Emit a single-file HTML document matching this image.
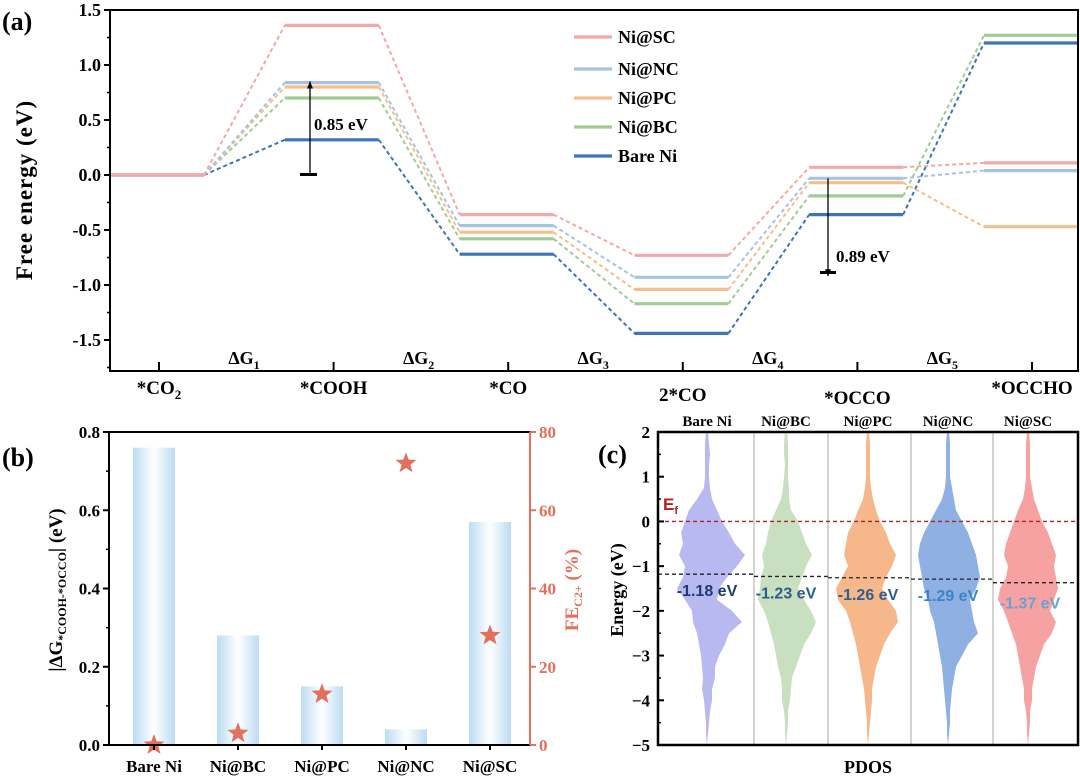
<!DOCTYPE html>
<html><head><meta charset="utf-8">
<style>
html,body{margin:0;padding:0;background:#fff;}
svg{display:block;font-family:"Liberation Serif",serif;}
</style></head>
<body>
<svg id="fig" width="1080" height="779" viewBox="0 0 1080 779" xmlns="http://www.w3.org/2000/svg"></svg>
<script>
// ---------- Panel (a) data ----------
const statesA = ["*CO2","*COOH","*CO","2*CO","*OCCO","*OCCHO"];
const seriesNamesA = ["Ni@SC","Ni@NC","Ni@PC","Ni@BC","Bare Ni"];
const energySC = [0, 1.36, -0.36, -0.73, 0.07, 0.11];
const energyNC = [0, 0.84, -0.46, -0.93, -0.03, 0.04];
const energyPC = [0, 0.80, -0.52, -1.04, -0.07, -0.47];
const energyBC = [0, 0.70, -0.58, -1.17, -0.19, 1.27];
const energyBare = [0, 0.32, -0.72, -1.44, -0.36, 1.20];
const yTicksA = [1.5, 1.0, 0.5, 0.0, -0.5, -1.0, -1.5];
const yTickLabelsA = ["1.5","1.0","0.5","0.0","-0.5","-1.0","-1.5"];
// ---------- Panel (b) data ----------
const catsB = ["Bare Ni","Ni@BC","Ni@PC","Ni@NC","Ni@SC"];
const deltaG = [0.76, 0.28, 0.15, 0.04, 0.57];
const feC2 = [0, 3, 13, 72, 28];
const yTicksB = [0, 0.2, 0.4, 0.6, 0.8];
const yTickLabelsB = ["0.0","0.2","0.4","0.6","0.8"];
const yTicksB2 = [0, 20, 40, 60, 80];
// ---------- Panel (c) data ----------
const catsC = ["Bare Ni","Ni@BC","Ni@PC","Ni@NC","Ni@SC"];
const dCenter = [-1.18, -1.23, -1.26, -1.29, -1.37];
const dLabels = ["-1.18 eV","-1.23 eV","-1.26 eV","-1.29 eV","-1.37 eV"];
const energiesC = [2,1.75,1.5,1.25,1,0.75,0.5,0.25,0,-0.25,-0.5,-0.75,-1,-1.25,-1.5,-1.75,-2,-2.25,-2.5,-2.75,-3,-3.25,-3.5,-3.75,-4,-4.25,-4.5,-4.75,-5];
const bareR = [1,2,3,2,2,3,5,10,15,22,28,38,30,20,12,10,25,35,22,18,12,8,8,5,5,3,2,1,0];
const bareL = [1,2,2,2,2,3,10,18,22,26,24,28,22,24,30,22,15,14,10,8,6,5,4,5,3,2,1,1,0];
const bcR = [1,2,2,2,2,3,3,5,12,16,20,26,20,16,12,18,25,30,25,18,14,10,6,5,4,2,2,1,0];
const bcL = [1,2,2,1,2,3,5,10,15,18,20,24,22,25,26,28,22,18,15,12,10,8,5,4,4,2,1,1,0];
const pcR = [1,2,2,2,2,3,5,8,12,18,22,28,24,18,14,20,28,30,22,16,12,8,6,4,4,3,2,1,0];
const pcL = [1,2,2,2,2,3,5,10,14,20,22,24,20,26,32,30,22,18,15,12,10,8,6,4,3,2,1,1,0];
const ncR = [1,2,2,2,2,4,6,8,14,20,24,28,30,32,28,22,24,26,30,20,14,8,6,4,3,2,2,1,0];
const ncL = [1,2,2,2,2,3,6,12,18,24,28,30,28,26,24,20,18,14,12,10,8,6,5,4,3,2,1,1,0];
const scR = [1,2,2,2,2,4,6,10,14,20,24,28,26,28,30,26,22,28,24,16,12,8,6,4,4,2,2,1,0];
const scL = [1,2,2,2,2,3,5,10,14,18,22,24,20,22,28,30,24,20,16,12,10,8,6,4,4,2,1,1,0];

const NS = "http://www.w3.org/2000/svg";
const svg = document.getElementById("fig");
function mk(tag, attrs, parent){
  const e = document.createElementNS(NS, tag);
  for (const k in attrs) e.setAttribute(k, attrs[k]);
  (parent||svg).appendChild(e);
  return e;
}
function txt(x,y,s,attrs,parent){
  const t = mk("text", Object.assign({x:x,y:y}, attrs||{}), parent);
  t.textContent = s;
  return t;
}

// ===== Panel (a) =====
const gA = mk("g",{});


const aL=110, aR=1078, aT=10, aB=371;
const yA = v => 175 - v*110;
const xA = i => 157 + 174.8*i;
const segHalf = 47;
const colorsA = ["#f4a8a8","#a8c2e4","#f6be8a","#a0cc94","#3d74b8"];
const seriesA = [energySC, energyNC, energyPC, energyBC, energyBare];
for (let s = seriesA.length-1; s >= 0; s--) {
  const vals = seriesA[s];
  const g = mk("g",{}, gA);
  
  
  for (let i=0;i<vals.length;i++){
    const x1 = i===0 ? aL : xA(i)-segHalf;
    const x2 = Math.min(aR, xA(i)+segHalf);
    const l = mk("line",{x1:x1,x2:x2,y1:yA(vals[i]),y2:yA(vals[i]),stroke:colorsA[s],"stroke-width":3.2}, g);
    
    
    if (i<vals.length-1){
      const c = mk("line",{x1:x2,y1:yA(vals[i]),x2:xA(i+1)-segHalf,y2:yA(vals[i+1]),stroke:colorsA[s],"stroke-width":2,"stroke-dasharray":"4,3"}, g);
      
      
    }
  }
}
// frame
mk("rect",{x:aL,y:aT,width:aR-aL,height:aB-aT,fill:"none",stroke:"#000","stroke-width":2},gA);
yTicksA.forEach((v,i)=>{
  mk("line",{x1:aL-6,x2:aL,y1:yA(v),y2:yA(v),stroke:"#000","stroke-width":2},gA);
  mk("line",{x1:aL-3,x2:aL,y1:yA(v-0.25),y2:yA(v-0.25),stroke:"#000","stroke-width":1.5},gA);
  txt(aL-9,yA(v)+6,yTickLabelsA[i],{"text-anchor":"end","font-size":18,"font-weight":"bold"},gA);
});
const yt = txt(0,0,"Free energy (eV)",{"font-size":23,"font-weight":"bold","text-anchor":"middle","letter-spacing":"1",transform:"translate(32,190) rotate(-90)"},gA);


txt(2,30,"(a)",{"font-size":26,"font-weight":"bold"},gA);
// x ticks and labels
const labelDy = [0,0,0,7,10,0];
statesA.forEach((s,i)=>{
  const x = 159+174.6*i;
  mk("line",{x1:x,x2:x,y1:aB,y2:aB-9,stroke:"#000","stroke-width":2},gA);
  const t = txt(x,394+labelDy[i],"",{"text-anchor":"middle","font-size":19,"font-weight":"bold"},gA);
  if (s==="*CO2"){ t.textContent="*CO"; const ts=mk("tspan",{"font-size":13,dy:5},t); ts.textContent="2"; }
  else t.textContent=s;
  
  
  if (i<5){
    const d = txt(x+85,364,"ΔG",{"text-anchor":"middle","font-size":18,"font-weight":"bold"},gA);
    const ds = mk("tspan",{"font-size":12,dy:5},d); ds.textContent=String(i+1);
  }
});
// arrows
function arrow(x,y1,y2,parent){
  mk("line",{x1:x,x2:x,y1:y1,y2:y2,stroke:"#000","stroke-width":1.3},parent);
  mk("polygon",{points:`${x-3},${y2+(y2<y1?7:-7)} ${x+3},${y2+(y2<y1?7:-7)} ${x},${y2}`,fill:"#000"},parent);
}
arrow(310,175,yA(0.85),gA);
mk("rect",{x:300,y:173,width:17,height:3,fill:"#000"},gA);
txt(314,130,"0.85 eV",{"font-size":17,"font-weight":"bold"},gA);
arrow(828,yA(-0.03),yA(-0.92),gA);
mk("rect",{x:820,y:271,width:16,height:3,fill:"#000"},gA);
txt(836,262,"0.89 eV",{"font-size":17,"font-weight":"bold"},gA);
// legend
const legY=[43,75,104,133,162];
seriesNamesA.forEach((n,i)=>{
  const g = mk("g",{},gA);
  
  
  mk("line",{x1:574,x2:612,y1:legY[i]-6,y2:legY[i]-6,stroke:colorsA[i],"stroke-width":3.2},g);
  txt(618,legY[i],n,{"font-size":18,"font-weight":"bold"},g);
});

// ===== Panel (b) =====
const gB = mk("g",{});


const bL=109,bR=530,bT=432,bB=745;
const yB = v => bB - v/0.8*(bB-bT);
const yB2 = v => bB - v/80*(bB-bT);
const xB = i => 154 + 84*i;
const defs = mk("defs",{});
const lg = mk("linearGradient",{id:"barg",x1:"0",x2:"1",y1:"0",y2:"0"},defs);
[["0","#bcdcf3"],["0.5","#ffffff"],["1","#bcdcf3"]].forEach(s=>mk("stop",{offset:s[0],"stop-color":s[1]},lg));
deltaG.forEach((v,i)=>{
  const r = mk("rect",{x:xB(i)-21,y:yB(v),width:42,height:bB-yB(v),fill:"url(#barg)"},gB);
  
  
});
function star(cx,cy,r){
  let p=[];
  for(let k=0;k<10;k++){const a=-Math.PI/2+k*Math.PI/5;const rr=k%2?r*0.42:r;p.push((cx+rr*Math.cos(a)).toFixed(1)+","+(cy+rr*Math.sin(a)).toFixed(1));}
  return p.join(" ");
}
feC2.forEach((v,i)=>{
  const s = mk("polygon",{points:star(xB(i),yB2(v),11),fill:"#e2705c"},gB);
  
  
});
mk("line",{x1:bL,x2:bR,y1:bT,y2:bT,stroke:"#000","stroke-width":2},gB);
mk("line",{x1:bL,x2:bR,y1:bB,y2:bB,stroke:"#000","stroke-width":2},gB);
mk("line",{x1:bL,x2:bL,y1:bT,y2:bB,stroke:"#000","stroke-width":2},gB);
mk("line",{x1:bR,x2:bR,y1:bT,y2:bB,stroke:"#e2705c","stroke-width":2},gB);
yTicksB.forEach((v,i)=>{
  mk("line",{x1:bL-6,x2:bL,y1:yB(v),y2:yB(v),stroke:"#000","stroke-width":2},gB);
  if(i<4) mk("line",{x1:bL-3,x2:bL,y1:yB(v+0.1),y2:yB(v+0.1),stroke:"#000","stroke-width":1.5},gB);
  txt(bL-9,yB(v)+6,yTickLabelsB[i],{"text-anchor":"end","font-size":17,"font-weight":"bold"},gB);
});
yTicksB2.forEach((v,i)=>{
  mk("line",{x1:bR,x2:bR+6,y1:yB2(v),y2:yB2(v),stroke:"#e2705c","stroke-width":2},gB);
  txt(bR+9,yB2(v)+6,String(v),{"font-size":17,"font-weight":"bold",fill:"#e2705c"},gB);
});
catsB.forEach((c,i)=>{
  mk("line",{x1:xB(i),x2:xB(i),y1:bB,y2:bB+5,stroke:"#000","stroke-width":2},gB);
  txt(xB(i),772,c,{"text-anchor":"middle","font-size":17,"font-weight":"bold"},gB);
});
const ybt = txt(0,0,"",{"font-size":19,"font-weight":"bold","text-anchor":"middle",transform:"translate(62,590) rotate(-90)"},gB);
ybt.textContent="|ΔG";
let ts1=mk("tspan",{"font-size":12,dy:4},ybt); ts1.textContent="*COOH-*OCCO";
let ts2=mk("tspan",{dy:-4},ybt); ts2.textContent="| (eV)";


const ybt2 = txt(0,0,"FE",{"font-size":19,"font-weight":"bold","text-anchor":"middle",fill:"#e2705c",transform:"translate(578,590) rotate(-90)"},gB);
let ts3=mk("tspan",{"font-size":12,dy:4},ybt2); ts3.textContent="C2+";
let ts4=mk("tspan",{dy:-4},ybt2); ts4.textContent=" (%)";


txt(2,466,"(b)",{"font-size":26,"font-weight":"bold"},gB);

// ===== Panel (c) =====
const gC = mk("g",{});


const cL=658,cR=1078,cT=432,cB=745;
const yC = v => cT + (2-v)*(cB-cT)/7;
const spineX = [707,786,868,948,1028];
const sepX = [754,828,911,993];
const colorsC = ["#b9b9f2","#c9e0c0","#f6b88a","#8eb0e2","#f6a2a2"];
const rights = [bareR,bcR,pcR,ncR,scR];
const lefts = [bareL,bcL,pcL,ncL,scL];
sepX.forEach(x=>mk("line",{x1:x,x2:x,y1:cT,y2:cB,stroke:"#aaa","stroke-width":1},gC));
catsC.forEach((c,k)=>{
  let pts=[];
  energiesC.forEach((e,j)=>pts.push((spineX[k]+rights[k][j])+","+yC(e).toFixed(1)));
  for(let j=energiesC.length-1;j>=0;j--) pts.push((spineX[k]-lefts[k][j])+","+yC(energiesC[j]).toFixed(1));
  const p = mk("polygon",{points:pts.join(" "),fill:colorsC[k],"stroke-linejoin":"round"},gC);
  
  
  txt(spineX[k],426,c,{"text-anchor":"middle","font-size":15,"font-weight":"bold"},gC);
});
// d-band center lines
const colEdges=[cL].concat(sepX).concat([cR]);
const dColors=["#1f3a6e","#2a5d8c","#2e5f90","#3a84c6","#6aa0d2"];
dCenter.forEach((v,k)=>{
  mk("line",{x1:colEdges[k],x2:colEdges[k+1],y1:yC(v),y2:yC(v),stroke:"#222","stroke-width":1.3,"stroke-dasharray":"4,3"},gC);
  const t = txt(spineX[k]+(k===4?2:0),yC(v)+22+(k===4?4:0),dLabels[k],{"text-anchor":"middle","font-family":"Liberation Sans, sans-serif","font-size":16,"font-weight":"bold",fill:dColors[k]},gC);
  
  
});
mk("line",{x1:cL,x2:cR,y1:yC(0),y2:yC(0),stroke:"#b52020","stroke-width":1.3,"stroke-dasharray":"4,3"},gC);
const ef = txt(663,510,"E",{"font-family":"Liberation Sans, sans-serif","font-size":17,"font-weight":"bold",fill:"#b52020"},gC);
const efs = mk("tspan",{"font-size":11,dy:4},ef); efs.textContent="f";
mk("rect",{x:cL,y:cT,width:cR-cL,height:cB-cT,fill:"none",stroke:"#000","stroke-width":2.5},gC);
[2,1,0,-1,-2,-3,-4,-5].forEach(v=>{
  mk("line",{x1:cL,x2:cL+6,y1:yC(v),y2:yC(v),stroke:"#000","stroke-width":2},gC);
  if(v>-5) mk("line",{x1:cL,x2:cL+3,y1:yC(v-0.5),y2:yC(v-0.5),stroke:"#000","stroke-width":1.5},gC);
  txt(cL-8,yC(v)+6,v<0?"−"+(-v):String(v),{"text-anchor":"end","font-size":17,"font-weight":"bold"},gC);
});
const ect = txt(0,0,"Energy (eV)",{"font-size":18,"font-weight":"bold","text-anchor":"middle",transform:"translate(623,590) rotate(-90)"},gC);


txt(868,773,"PDOS",{"text-anchor":"middle","font-size":18,"font-weight":"bold"},gC);
txt(598,463,"(c)",{"font-size":26,"font-weight":"bold"},gC);
</script>
</body></html>
